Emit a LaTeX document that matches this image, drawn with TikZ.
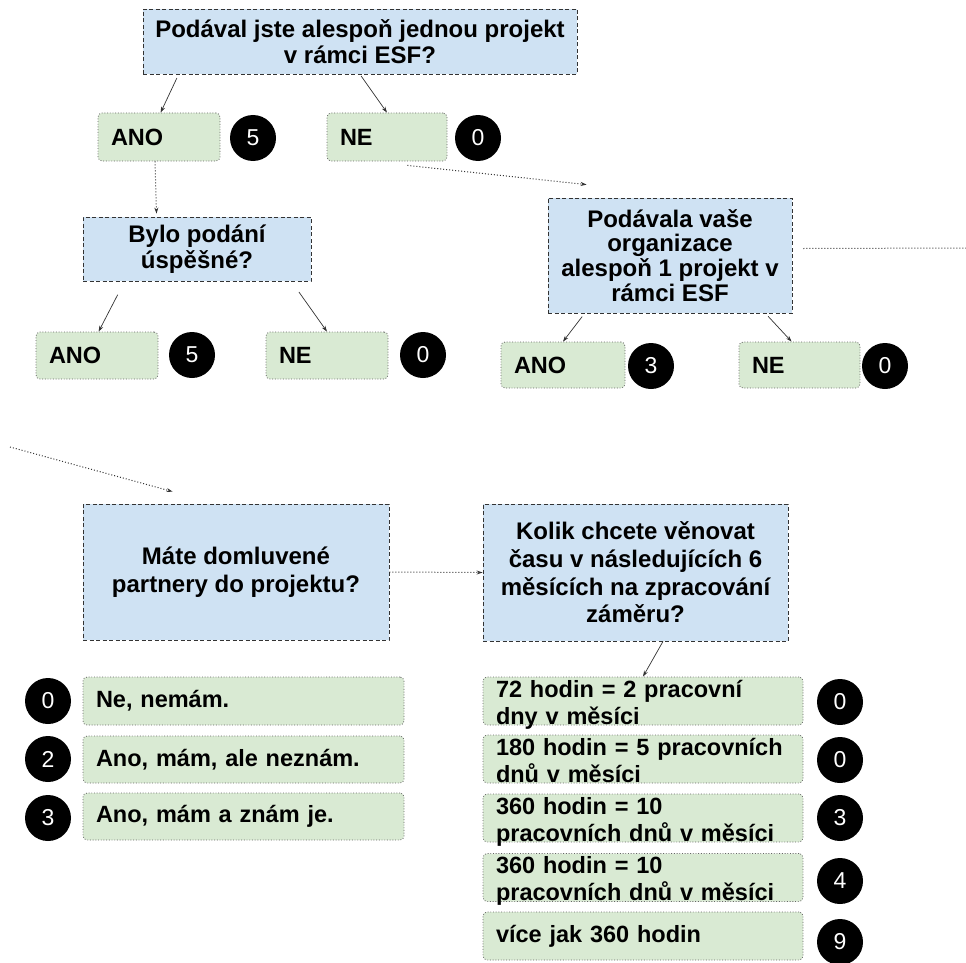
\documentclass[tikz,border=0pt]{standalone}
\usepackage{fontspec}
\setmainfont{Liberation Sans}
\usetikzlibrary{arrows.meta}
\definecolor{otazkafill}{HTML}{CFE2F3}
\definecolor{odpovedfill}{HTML}{D9EAD3}
\definecolor{ramecek}{HTML}{333333}
\begin{document}
\begin{tikzpicture}[x=1pt, y=-1pt,
    otazka/.style={draw=ramecek, fill=otazkafill, dash pattern=on 4pt off 2.5pt, line width=0.8pt,
        align=center, inner sep=0pt, font=\fontsize{24}{26}\selectfont\bfseries},
    odpoved/.style={draw=gray!80!black, fill=odpovedfill, dash pattern=on 0.9pt off 1.8pt, line width=0.8pt,
        rounded corners=4pt, inner xsep=13pt, inner ysep=0pt, align=left, font=\fontsize{23.5}{27}\selectfont\bfseries},
    dvar/.style={text height=20pt, text depth=28pt},
    body/.style={circle, fill=black, text=white, minimum size=46pt, inner sep=0pt, font=\fontsize{23}{24}\selectfont},
    sipka/.style={-{Stealth[length=6pt,width=4pt]}, line width=0.7pt, draw=ramecek},
    tecky/.style={line width=1pt, draw=ramecek, dash pattern=on 1pt off 2pt},
    tsipka/.style={sipka, tecky}]
    \useasboundingbox (0,0) rectangle (966,963);

    % ESF - osoba
    \node[otazka, minimum width=434pt, minimum height=65pt] (q1) at (360,41.5) {Podával jste alespoň jednou projekt\\v rámci ESF?};
    \node[odpoved, text width=96pt, minimum height=48pt] (a1) at (159,137) {ANO};
    \node[body] (s1) at (253,138) {5};
    \node[odpoved, text width=94pt, minimum height=48pt] (n1) at (387,137) {NE};
    \node[body] (s2) at (478,138) {0};
    \draw[sipka, shorten <=4pt] ([xshift=36pt]q1.south west) -- ([xshift=63pt]a1.north west);
    \draw[sipka, shorten <=2pt] (q1.south) -- (n1.north);

    % uspech
    \node[otazka, minimum width=228pt, minimum height=64pt] (q2) at (197,249) {Bylo podání\\úspěšné?};
    \node[odpoved, text width=96pt, minimum height=47pt] (a2) at (97,355.5) {ANO};
    \node[body] (s3) at (192,355) {5};
    \node[odpoved, text width=96pt, minimum height=47pt] (n2) at (327,355.5) {NE};
    \node[body] (s4) at (423,355) {0};
    \draw[tsipka, shorten >=3pt] ([xshift=-4pt]a1.south) -- ([xshift=74pt]q2.north west);
    \draw[sipka, shorten <=15pt] ([xshift=42pt]q2.south west) -- ([xshift=63pt]a2.north west);
    \draw[sipka, shorten <=13pt] ([xshift=-20pt]q2.south east) -- (n2.north);

    % ESF - organizace
    \node[otazka, minimum width=244pt, minimum height=115pt, font=\fontsize{24}{24.7}\selectfont\bfseries] (q3) at (670,255.5) {Podávala vaše\\organizace\\alespoň 1 projekt v\\rámci ESF};
    \node[odpoved, text width=98pt, minimum height=46pt] (a3) at (563,365) {ANO};
    \node[body] (s5) at (651,366) {3};
    \node[odpoved, text width=95pt, minimum height=46pt] (n3) at (799.5,365) {NE};
    \node[body] (s6) at (885,366) {0};
    \draw[tsipka] ([xshift=-40pt,yshift=-4pt]n1.south east) -- ([xshift=39pt,yshift=13pt]q3.north west);
    \draw[sipka, shorten <=4pt] ([xshift=37pt]q3.south west) -- (a3.north);
    \draw[sipka, shorten <=4pt] ([xshift=-27pt]q3.south east) -- ([xshift=53pt]n3.north west);
    \coordinate (vpravo) at (966,248);
    \draw[tecky] ([xshift=11pt,yshift=7pt]q3.east) -- (vpravo);

    % partneri
    \coordinate (vlevo) at (10,447);
    \node[otazka, minimum width=306pt, minimum height=136pt, font=\fontsize{24}{28}\selectfont\bfseries] (q4) at (236,572) {Máte domluvené\\partnery do projektu?};
    \draw[tsipka] (vlevo) -- ([xshift=90pt,yshift=12pt]q4.north west);
    \node[odpoved, text width=295pt, minimum height=48pt] (p1) at (243.5,701) {Ne, nemám.};
    \node[odpoved, text width=295pt, minimum height=47pt] (p2) at (243.5,759.5) {Ano, mám, ale neznám.};
    \node[odpoved, text width=295pt, minimum height=47pt] (p3) at (243.5,816.5) {Ano, mám a znám je.};
    \node[body] (s7) at (48,701) {0};
    \node[body] (s8) at (48,759) {2};
    \node[body] (s9) at (48,818) {3};

    % cas
    \node[otazka, minimum width=305pt, minimum height=137pt, font=\fontsize{24}{27.7}\selectfont\bfseries] (q5) at (635.5,572.5) {Kolik chcete věnovat\\času v následujících 6\\měsících na zpracování\\záměru?};
    \draw[tsipka] (q4.east) -- (q5.west);
    \node[odpoved, dvar, text width=294pt, minimum height=48pt] (r1) at (643,701) {72 hodin = 2 pracovní\\dny v měsíci};
    \node[odpoved, dvar, text width=294pt, minimum height=48pt] (r2) at (643,759) {180 hodin = 5 pracovních\\dnů v měsíci};
    \node[odpoved, dvar, text width=294pt, minimum height=48pt] (r3) at (643,818) {360 hodin = 10\\pracovních dnů v měsíci};
    \node[odpoved, dvar, text width=294pt, minimum height=48pt] (r4) at (643,877.5) {360 hodin = 10\\pracovních dnů v měsíci};
    \node[odpoved, text width=294pt, minimum height=48pt] (r5) at (643,936) {více jak 360 hodin};
    \node[body] (s10) at (840,702) {0};
    \node[body] (s11) at (840,760) {0};
    \node[body] (s12) at (840,818) {3};
    \node[body] (s13) at (840,881) {4};
    \node[body] (s14) at (840,942) {9};
    \draw[sipka] ([xshift=27.5pt]q5.south) -- (r1.north);
\end{tikzpicture}
\end{document}
